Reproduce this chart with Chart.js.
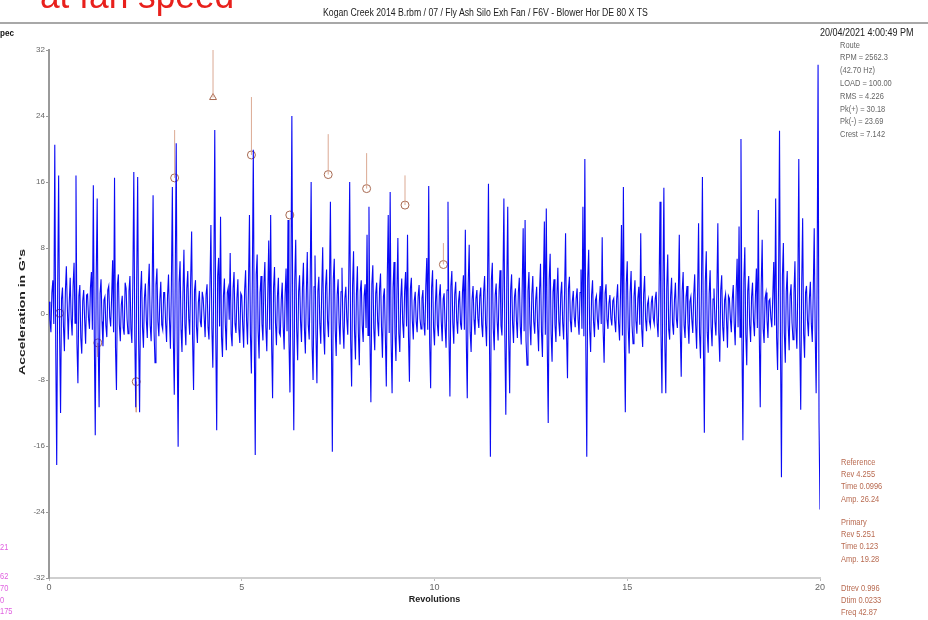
<!DOCTYPE html>
<html>
<head>
<meta charset="utf-8">
<script src="https://cdn.jsdelivr.net/npm/chart.js@4.4.0/dist/chart.umd.min.js"></script>
<style>
body{margin:0;background:#fff;width:928px;height:620px;overflow:hidden;position:relative;font-family:"Liberation Sans",Arial,sans-serif}
#box{position:absolute;left:0;top:0;width:928px;height:620px}
.t{position:absolute;white-space:nowrap;transform-origin:0 50%}
#rule{position:absolute;left:0;top:22px;width:928px;height:2px;background:#a8a8a8}
#ytitle{position:absolute;left:22px;top:312px;white-space:nowrap;font-size:9px;line-height:9px;font-weight:bold;color:#222;transform:translate(-50%,-50%) rotate(-90deg) scaleX(1.55)}
</style>
</head>
<body>
<div id="box"><canvas id="wave"></canvas></div>
<div id="rule"></div>
<div id="ytitle">Acceleration in G's</div>
<script>
// acceleration samples, 40 per revolution (0..20 rev)
var accel = [
 1.5,-0.8,-2.2,2.6,4.1,-1.2,20.5,-4.2,-18.3,3.1,16.8,-2.4,-12,1.8,3.2,-1.5,-4.5,2.7,5.8,0.9,-3.1,1.3,4.4,-0.6,-2.6,3.4,6.2,-1.1,16.8,-3.6,-8.4,2.2,3.5,-2.9,-4.8,1.6,2.9,-0.7,-3.6,2.3,
 2.4,-0.5,-1.8,3.2,5.1,-1.9,15.6,-2.8,-14.7,4.4,14,-3.3,-11.3,2.5,4.2,-0.9,-3.9,1.7,2.1,-1.4,-2.8,2.9,3.4,-0.4,-1.5,2.1,6.5,-2.2,16.5,-4.1,-9.2,3.6,4.8,-1.3,-3.3,1.1,2.2,-1.7,-2.5,3.8,
 3.1,-0.6,-2.4,2.8,4.6,-1.8,-3.5,3.9,17.2,-2.6,-11.3,4.1,16.6,-3.2,-11.9,2.7,5.2,-1.6,-4.1,1.9,3.7,-0.8,-2.9,3.3,6.1,-1.4,-3.3,2.4,14.4,-2.1,-5.9,3.5,5.5,-0.9,-2.7,1.8,3.9,-1.3,-1.9,2.6,
 2.6,-1.1,-3.4,2.2,4.8,-0.7,-4.2,3.6,15.4,-2.9,-9.8,4.5,20.7,-3.4,-16.1,3.8,6.4,-1.9,-4.6,2.5,7.8,-1.2,-3.8,3.1,5.2,-0.5,-2.5,4.2,10,-3.1,-9.2,2.9,4.1,-1.5,-3.5,1.4,2.8,-0.9,-1.6,2.7,
 1.9,-0.4,-2.8,2.4,3.6,-1.6,-3.1,3.3,10.8,-1.7,-6.5,3.9,22.3,-2.2,-14.1,4.6,6.8,-1.5,11.8,-2.8,-5.2,2.2,4.3,-1.3,-4.4,2.6,3.2,-0.7,7.4,-2.4,-3.9,3.1,5.1,-1.2,-2.3,1.9,4.2,-1.8,-3.5,2.5,
 2.2,-1.4,-4.1,2.9,5.3,-0.8,-3.7,3.5,12,-2.5,-7.2,4.3,19.9,-3.1,-17.1,4.8,7.2,-2.1,-5.4,2.6,4.6,-1.2,-3.2,3.7,6.3,-1.6,-4.5,2.3,8.9,-1.9,12,-3.7,-10.2,3.2,5.7,-1.1,-3.8,2.1,4.4,-2.3,
 -2.6,1.7,3.8,-1.5,-4.3,2.4,5.5,-2.1,11.4,-3.3,-9.5,3.8,24,-2.9,-14.1,4.1,9,-1.8,-5.6,2.7,4.7,-0.9,-3.4,3.2,6.2,-1.7,-4.8,2.5,7.5,-1.3,-3.1,3.6,16,-3.9,-8,3.3,7.1,-2.5,-8.4,2.8,
 4.5,-1.2,-3.6,2.9,8.1,-2.2,-4.9,3.4,5.4,-0.8,-2.8,3.1,13.6,-2.4,-16.7,4.2,6.7,-1.9,-5.1,2.3,4.2,-1.1,-3.7,2.7,5.6,-1.5,-4.2,1.9,3.3,-0.6,-2.5,3.8,16,-3.2,-8.8,3.5,7.6,-2.1,-5.5,2.4,
 5.8,-2.3,-6.2,2.8,4.1,-1.4,-3.4,2.2,3.6,-1.7,9.6,-2.6,13,-3.1,-10.7,3.6,5.9,-1.8,-4.4,2.5,3.8,-0.9,-2.7,3.1,4.9,-1.6,-5.3,2.1,3.1,-2.7,-8.8,4.4,12,-2.3,14.8,-3.5,-9.6,3.2,6.3,-2.4,
 -5.7,2.6,9.2,-2.4,-4.6,1.9,4.3,-1.1,-2.9,2.8,5.1,-1.5,9.6,-2.7,-8.2,3.1,4.4,-0.8,-3.1,1.6,2.7,-0.9,-2.2,2.1,3.5,-0.6,-1.8,1.9,2.9,-1.2,-2.6,3.4,6.8,-1.9,15.5,-3.6,-9,3.2,5.3,-1.7,
 -3.8,1.4,4.2,-1.3,-2.7,2.2,3.6,-0.9,-3.3,1.8,2.5,-1.6,-4.1,2.9,13.6,-2.8,-10,3.4,5.2,-1.1,-3.6,2.4,3.9,-0.7,-2.4,1.6,2.8,-1.2,-1.9,2.6,4.7,-1.9,10.2,-3.3,-10.2,3.7,8.4,-2.2,-4.6,1.8,
 3.4,-0.7,-2.5,1.9,2.9,-0.5,-1.7,2.2,3.2,-1.3,-2.8,2.7,4.6,-1.2,-3.9,3.3,15.8,-2.6,-17.3,4.1,6.2,-1.8,-4.4,2.3,3.7,-0.9,-3.2,2.8,5.3,-1.4,-2.6,3.5,14,-2.9,-12.2,3.6,13,-3.1,-9.6,2.9,
 4.8,-1.1,-3.5,2.1,3.1,-0.8,-2.9,2.6,4.4,-1.5,-3.7,3.2,10.4,-2.1,11.4,-3.3,-6.2,2.8,5.1,-1.2,-3.8,2.4,4.6,-0.9,-2.4,1.7,3.3,-1.6,-4.5,2.9,6.1,-2.2,-5.2,3.6,11.2,-2.5,12.8,-3.8,-13.2,4.2,
 7.3,-2.4,-5.8,2.7,4.2,-1.3,-3.4,2.2,5.6,-0.9,-2.7,2.4,3.9,-1.1,-3.1,2.9,9.8,-2.3,-7.8,3.1,4.5,-0.8,-2.2,1.5,2.8,-0.4,-1.6,1.9,3.1,-0.7,-2.5,2.6,5.4,-1.8,13,-2.7,18.8,-3.9,-17.3,4.3,
 7.8,-1.9,-4.6,2.3,4.1,-0.9,-2.8,1.7,2.2,-0.6,-1.9,1.4,3.4,-1.2,9.3,-2.1,-5.9,2.5,3.6,-0.7,-1.8,1.3,2.3,-0.5,-1.4,1.6,1.9,-0.8,-2.2,1.8,3.6,-1.1,-3.2,2.4,10.8,-2.6,15.4,-3.4,-11.9,3.7,
 6.4,-1.7,-4.8,2.6,5.2,-1.4,-3.6,2.1,4.1,-0.8,-2.4,1.9,3.3,-1.3,9.8,-1.8,-4,2.4,4.6,-0.6,-2.1,1.2,1.8,-0.9,-1.5,1.4,2.2,-0.5,-1.2,1.8,2.7,-1.1,-2.8,2.9,13.6,-2.5,-9.6,3.1,15.3,-3.6,
 -9.6,3.2,7.2,-1.9,-3.1,2.2,4.4,-1.2,-2.5,1.7,3.8,-0.6,-1.7,2.3,9.6,-2.1,-7.6,2.8,5.1,-1.4,-2.9,2.1,3.4,-1.1,-3.6,1.5,2.1,-0.7,-2.3,2.4,4.8,-1.3,-4.2,2.6,11,-2.4,-5.4,3.3,16.6,-3.5,
 -14.4,3.9,7.6,-2.2,-4.7,2.5,5.3,-1.6,-3.9,1.8,3.1,-0.9,-2.6,2.7,11,-2.3,-5.8,2.9,4.7,-1.5,-3.3,1.7,2.4,-0.8,-4.1,2.2,1.9,-0.6,-2.2,1.8,3.5,-1.2,-3.8,2.7,6.7,-1.6,10.6,-2.8,21.2,-3.3,
 -15.3,4.2,8.1,-2.5,-6.2,2.8,4.6,-1.3,-3.4,2.1,3.8,-0.9,-2.7,2.2,5.5,-1.7,12.6,-2.6,-11.3,3.4,9,-1.8,-3.5,1.9,2.6,-0.7,-2.9,1.6,1.8,-0.5,-1.6,2.1,6.3,-1.4,14,-2.9,-6.8,3.6,22.2,-3.7,
 -19.8,4.6,8.6,-2.3,-5.9,2.7,5.2,-1.4,-4.4,2.2,3.6,-1.1,-3.1,2.5,6.4,-1.6,-4.2,3.1,18.8,-3.2,-11.6,3.5,11.6,-2.4,-5.3,2.6,3.4,-0.8,-2.7,1.9,3.9,-1.2,-3.4,2.8,10.4,-2.2,-9.6,3.9,30.2,-13.2,
 -23.7
];
var revMax = 20;

// harmonic cursor marks (reference = 4.255, spacing 0.996)
var harmRev = [0.271,1.267,2.263,3.259,4.255,5.251,6.247,7.243,8.239,9.235,10.231];
var harmAmp = [0.1,-3.5,-8.2,16.5,26.24,19.28,12,16.9,15.2,13.2,6];
var harmTop = [0.1,-5.2,-11.9,22.3,32.8,26.3,12,21.8,19.5,16.8,8.6];
var refIndex = 4;

var infoLines = ['Route','RPM = 2562.3','(42.70 Hz)','LOAD = 100.00','RMS = 4.226','Pk(+) = 30.18','Pk(-) = 23.69','Crest = 7.142'];
var cursorLines = [
  ['Reference','Rev 4.255','Time 0.0996','Amp. 26.24'],
  ['Primary','Rev 5.251','Time 0.123','Amp. 19.28'],
  ['Dtrev 0.996','Dtim 0.0233','Freq 42.87']
];
var sideLines = ['21','62','70','0','175'];

function addText(txt, x, yc, size, color, sx, weight){
  var d = document.createElement('div');
  d.className = 't';
  d.textContent = txt;
  d.style.left = x + 'px';
  d.style.top = (yc - size/2) + 'px';
  d.style.fontSize = size + 'px';
  d.style.lineHeight = size + 'px';
  d.style.color = color;
  if (weight) d.style.fontWeight = weight;
  if (sx) d.style.transform = 'scaleX(' + sx + ')';
  document.body.appendChild(d);
}

addText('at fan speed', 40, -4, 36, '#e8201c', 0.98);
addText('Kogan Creek 2014 B.rbm / 07 / Fly Ash Silo Exh Fan / F6V - Blower Hor DE 80 X  TS', 323, 13, 10, '#222', 0.87);
addText('pec', 0, 33, 9, '#111', 0.9, 'bold');
addText('20/04/2021 4:00:49 PM', 820, 33, 10, '#222', 0.9);
infoLines.forEach(function(s, i){ addText(s, 840, 45 + i*12.8, 9, '#666', 0.83); });
var cy = [462, 522, 588];
cursorLines.forEach(function(block, b){
  block.forEach(function(s, i){ addText(s, 841, cy[b] + i*12.4, 9, '#b86a50', 0.83); });
});
var sy = [547, 576, 588, 600, 611];
sideLines.forEach(function(s, i){ addText(s, 0, sy[i], 9, '#e060e0', 0.83); });

var step = revMax / (accel.length - 1);
var wavePts = accel.map(function(v, i){ return {x: i*step, y: v}; });

var cursorPts = [];
harmRev.forEach(function(r, i){
  cursorPts.push({x: r, y: harmAmp[i]});
  cursorPts.push({x: r, y: harmTop[i]});
  cursorPts.push({x: r, y: null});
});
var markPts = harmRev.map(function(r, i){ return {x: r, y: harmAmp[i]}; });
var markStyles = harmRev.map(function(r, i){ return i === refIndex ? 'triangle' : 'circle'; });

new Chart('wave', {
  type: 'line',
  data: {
    datasets: [
      {
        data: wavePts,
        borderColor: 'rgb(10,10,245)',
        borderWidth: 1.1,
        pointRadius: 0,
        tension: 0
      },
      {
        data: cursorPts,
        borderColor: 'rgba(215,160,135,0.9)',
        borderWidth: 1,
        pointRadius: 0,
        spanGaps: false
      },
      {
        data: markPts,
        showLine: false,
        pointStyle: markStyles,
        pointRadius: 4,
        pointBorderWidth: 1,
        pointBorderColor: '#a86a52',
        pointBackgroundColor: 'rgba(255,255,255,0)'
      }
    ]
  },
  options: {
    responsive: true,
    maintainAspectRatio: false,
    animation: false,
    layout: { padding: { left: 0, top: 50, right: 108, bottom: 0 } },
    plugins: { legend: { display: false }, tooltip: { enabled: false } },
    scales: {
      x: {
        type: 'linear',
        min: 0,
        max: revMax,
        ticks: { stepSize: 5, color: '#666', font: { size: 9 }, padding: 1, maxRotation: 0 },
        grid: { drawOnChartArea: false, tickLength: 3, color: '#bbb' },
        border: { color: '#cfcfcf', width: 2 },
        title: { display: true, text: 'Revolutions', color: '#222', font: { size: 9, weight: 'bold' }, padding: { top: 0, bottom: 15 } },
        afterFit: function(s){ s.height = 42; }
      },
      y: {
        min: -32,
        max: 32,
        ticks: { stepSize: 8, color: '#666', font: { size: 8 }, padding: 1 },
        grid: { drawOnChartArea: false, tickLength: 3, color: '#999' },
        border: { color: '#9a9a9a', width: 2 },
        afterFit: function(s){ s.width = 49; }
      }
    }
  }
});
</script>
</body>
</html>
